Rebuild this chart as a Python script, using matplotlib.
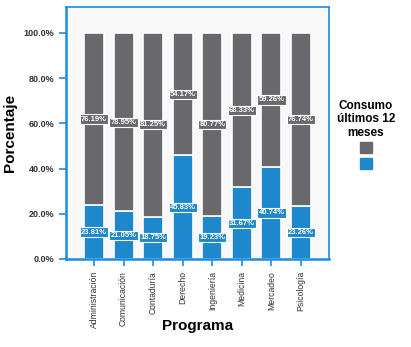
import numpy as np
import matplotlib
matplotlib.use('Agg')
import matplotlib.pyplot as plt
from matplotlib.patches import Patch

plt.rcParams['font.family'] = ['Liberation Sans', 'DejaVu Sans']

programas = ['Administración', 'Comunicación', 'Contaduría', 'Derecho',
             'Ingeniería', 'Medicina', 'Mercadeo', 'Psicología']
si = [23.81, 21.05, 18.75, 45.83, 19.23, 31.67, 40.74, 23.26]
no = [76.19, 78.95, 81.25, 54.17, 80.77, 68.33, 59.26, 76.74]

gray = '#69696d'
blue = '#1e88cc'
edge = '#1a8ce0'

fig = plt.figure(figsize=(4.11, 3.47), dpi=100)
ax = fig.add_axes([66/411, 1-259/347, (329-66)/411, (259-7)/347])
ax.set_facecolor('#f8f8f8')

x = np.arange(len(programas))
b1 = ax.bar(x, si, 0.68, color=blue, edgecolor='white', linewidth=1.2)
b2 = ax.bar(x, no, 0.68, bottom=si, color=gray, edgecolor='white', linewidth=1.2)

for i in range(len(x)):
    ax.text(x[i], si[i]/2, f'{si[i]:.2f}%', ha='center', va='center',
            color='white', fontsize=5.5, fontweight='bold',
            bbox=dict(boxstyle='square,pad=0.15', fc=blue, ec='white', lw=0.8))
    ax.text(x[i], si[i] + no[i]/2, f'{no[i]:.2f}%', ha='center', va='center',
            color='white', fontsize=5.5, fontweight='bold',
            bbox=dict(boxstyle='square,pad=0.15', fc=gray, ec='white', lw=0.8))

ax.set_xlim(-0.95, 7.95)
ax.set_ylim(0, 111.5)
ax.set_yticks([0, 20, 40, 60, 80, 100])
ax.set_yticklabels(['0.0%', '20.0%', '40.0%', '60.0%', '80.0%', '100.0%'],
                   fontsize=6.5, fontweight='bold')
ax.set_xticks(x)
ax.set_xticklabels(programas, rotation=90, fontsize=6.2)
ax.tick_params(axis='both', colors=edge, width=1.2, length=5, labelcolor='#333333')
for s in ax.spines.values():
    s.set_color(edge)
    s.set_linewidth(1.2)
ax.spines['left'].set_linewidth(1.8)
ax.spines['bottom'].set_linewidth(1.8)

fig.text(197.5/411, 1-326/347, 'Programa', fontsize=11, fontweight='bold',
         ha='center', va='center')
ax.set_ylabel('Porcentaje', fontsize=11, fontweight='bold', labelpad=5)

handles = [Patch(color=gray), Patch(color=blue)]
leg = fig.legend(handles, ['', ''], title='Consumo\núltimos 12\nmeses',
                 loc='upper center', bbox_to_anchor=(366/411, 1-87/347),
                 frameon=False, handlelength=0.8, handleheight=0.8,
                 handletextpad=0, labelspacing=0.15,
                 title_fontproperties={'size': 8.5, 'weight': 'bold'})
leg.get_title().set_ha('center')

fig.savefig('out.png', dpi=100)
